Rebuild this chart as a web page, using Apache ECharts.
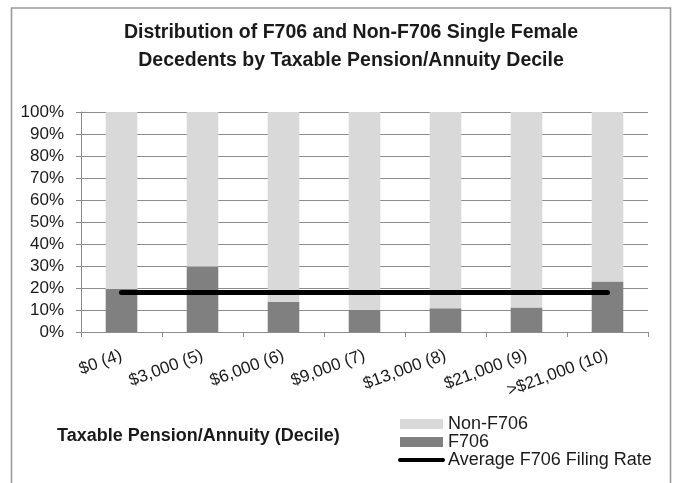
<!DOCTYPE html>
<html>
<head>
<meta charset="utf-8">
<script src="https://cdn.jsdelivr.net/npm/echarts@6/dist/echarts.min.js"></script>
<style>
  html, body { margin: 0; padding: 0; background: #fff; }
  #chart { width: 674px; height: 483px; }
</style>
</head>
<body>
<div id="chart"></div>
<script>
// data
const deciles = ['$0 (4)', '$3,000 (5)', '$6,000 (6)', '$9,000 (7)', '$13,000 (8)', '$21,000 (9)', '>$21,000 (10)']
const f706 = [19.5, 29.8, 13.8, 10.0, 10.8, 11.1, 22.9]
const nonF706 = [80.5, 70.2, 86.2, 90.0, 89.2, 88.9, 77.1]
const avgRate = [18, 18, 18, 18, 18, 18, 18]
const yTicks = [0, 10, 20, 30, 40, 50, 60, 70, 80, 90, 100]

const font = 'Arial, "Liberation Sans", sans-serif'
const gridGrey = '#8c8c8c'

const chart = echarts.init(document.getElementById('chart'))
chart.setOption({
  animation: false,
  textStyle: { fontFamily: font },
  graphic: [
    {
      type: 'rect',
      shape: { x: 11.5, y: 8, width: 659, height: 520 },
      style: { fill: 'none', stroke: '#9a9a9a', lineWidth: 1.6 }
    },
    {
      type: 'text',
      x: 351,
      y: 19,
      style: {
        text: 'Distribution of F706 and Non-F706 Single Female\nDecedents by Taxable Pension/Annuity Decile',
        align: 'center',
        verticalAlign: 'top',
        font: 'bold 19.5px ' + font,
        lineHeight: 28,
        fill: '#1a1a1a'
      }
    },
    {
      type: 'text',
      x: 57,
      y: 436,
      style: {
        text: 'Taxable Pension/Annuity (Decile)',
        verticalAlign: 'middle',
        font: 'bold 18px ' + font,
        fill: '#1a1a1a'
      }
    }
  ],
  legend: {
    orient: 'vertical',
    left: 398,
    top: 415,
    itemWidth: 43,
    itemHeight: 10,
    itemGap: 0,
    padding: 0,
    textStyle: { fontSize: 18, color: '#1a1a1a', lineHeight: 17, fontFamily: font },
    data: [
      { name: 'Non-F706', icon: 'rect' },
      { name: 'F706', icon: 'rect' },
      {
        name: 'Average F706 Filing Rate',
        itemStyle: { opacity: 0 },
        lineStyle: { width: 4, cap: 'round', color: '#000' }
      }
    ]
  },
  grid: { left: 81, right: 26, top: 112, bottom: 151 },
  xAxis: {
    type: 'category',
    data: deciles,
    axisLine: { lineStyle: { color: gridGrey } },
    axisTick: { show: true, length: 5, lineStyle: { color: gridGrey } },
    axisLabel: { rotate: 20, margin: 23, fontSize: 17, color: '#1a1a1a', interval: 0 }
  },
  yAxis: {
    type: 'value',
    min: yTicks[0],
    max: yTicks[yTicks.length - 1],
    interval: 10,
    axisLine: { show: true, lineStyle: { color: gridGrey } },
    axisTick: { show: true, length: 5, lineStyle: { color: gridGrey } },
    axisLabel: { formatter: '{value}%', fontSize: 17, color: '#1a1a1a', margin: 17 },
    splitLine: { lineStyle: { color: gridGrey } }
  },
  series: [
    {
      name: 'F706',
      type: 'bar',
      stack: 'total',
      barWidth: '39%',
      itemStyle: { color: '#808080' },
      data: f706
    },
    {
      name: 'Non-F706',
      type: 'bar',
      stack: 'total',
      itemStyle: { color: '#d9d9d9' },
      data: nonF706
    },
    {
      name: 'Average F706 Filing Rate',
      type: 'line',
      symbol: 'none',
      lineStyle: { color: '#000', width: 5, cap: 'round' },
      itemStyle: { color: '#000' },
      data: avgRate,
      z: 5
    }
  ]
})
</script>
</body>
</html>
